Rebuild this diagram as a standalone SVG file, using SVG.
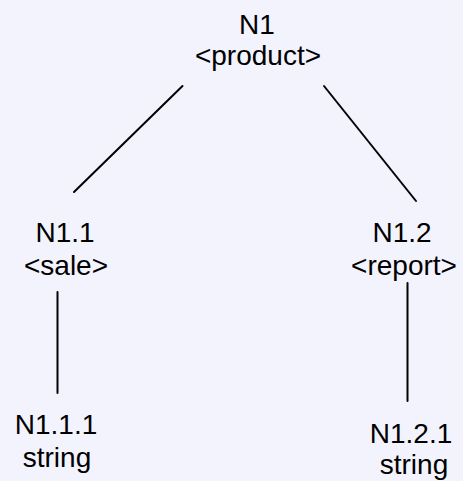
<svg xmlns="http://www.w3.org/2000/svg" width="463" height="481" viewBox="0 0 463 481">
<style>
text{font-family:"Liberation Sans",Arial,sans-serif;font-size:28px;fill:#000;text-anchor:middle}
.c line{stroke:#000;stroke-width:2;stroke-linecap:round}
</style>
<rect width="463" height="481" fill="#F3F3FE"/>
<g class="c" id="connectors">
<line x1="182.5" y1="86" x2="74" y2="192"/>
<line x1="324" y1="86" x2="416" y2="201"/>
<line x1="57.5" y1="292" x2="57.5" y2="393"/>
<line x1="407.5" y1="283" x2="407.5" y2="401"/>
</g>
<g id="n1"><text x="257" y="34">N1</text><text x="258" y="65">&lt;product&gt;</text></g>
<g id="n11"><text x="65" y="242">N1.1</text><text x="66" y="275">&lt;sale&gt;</text></g>
<g id="n12"><text x="402" y="242">N1.2</text><text x="404" y="275">&lt;report&gt;</text></g>
<g id="n111"><text x="56" y="434">N1.1.1</text><text x="57" y="467">string</text></g>
<g id="n121"><text x="411" y="443">N1.2.1</text><text x="414" y="474">string</text></g>
</svg>
